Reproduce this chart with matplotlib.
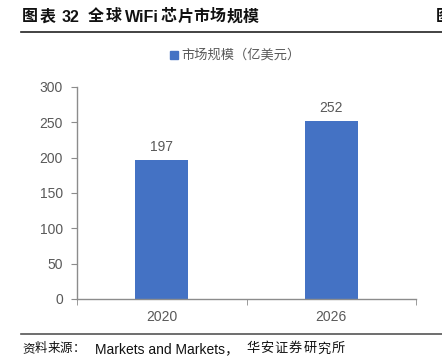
import matplotlib
matplotlib.use("Agg")
import matplotlib.pyplot as plt
from matplotlib.lines import Line2D
from matplotlib.patches import Rectangle

plt.rcParams['font.family'] = ['Liberation Sans', 'Noto Sans CJK SC', 'DejaVu Sans']

categories = ["2020", "2026"]
values = [197, 252]
series_name = "市场规模（亿美元）"
yticks = [0, 50, 100, 150, 200, 250, 300]
title_parts = ["图表", "32", "全球", "WiFi", "芯片市场规模"]
source_parts = ["资料来源：", "Markets and Markets，", "华安证券研究所"]

W, H = 442, 360
fig = plt.figure(figsize=(W / 100, H / 100), dpi=100)
ax = fig.add_axes([77 / W, (H - 299) / H, (416 - 77) / W, (299 - 87) / H])

bar_color = "#4472C4"
gray = "#595959"
x = list(range(len(categories)))
ax.bar(x, values, width=0.31, color=bar_color, zorder=2)
for xi, v in zip(x, values):
    ax.text(xi, v + 8, str(v), ha="center", va="bottom", fontsize=10, color=gray)

ax.set_xlim(-0.5, len(categories) - 0.5)
ax.set_ylim(0, 300)
ax.set_yticks(yticks)
ax.set_yticklabels([str(t) for t in yticks], fontsize=10, color=gray)
ax.set_xticks(x)
ax.set_xticklabels(categories, fontsize=10, color=gray)
ax.tick_params(axis="x", length=0, pad=8)
ax.tick_params(axis="y", length=4, color="#8c8c8c", pad=6)
ax.set_xticks([-0.5, 0.5, 1.5], minor=True)
ax.tick_params(axis="x", which="minor", length=4, color="#8c8c8c")
for s in ["top", "right"]:
    ax.spines[s].set_visible(False)
for s in ["left", "bottom"]:
    ax.spines[s].set_color("#8c8c8c")
    ax.spines[s].set_linewidth(1.0)

# legend
fig.patches.append(Rectangle((170 / W, (H - 59) / H), 8 / W, 8 / H,
                             transform=fig.transFigure, color=bar_color))
fig.text(181 / W, (H - 55) / H, series_name, fontsize=9.5, color=gray, va="center",
         family=['Noto Sans CJK SC', 'DejaVu Sans'])


def spaced(text, x0, y, pitch, **kw):
    for i, ch in enumerate(text):
        fig.text((x0 + i * pitch) / W, y / H, ch, va="center", **kw)


# title
ty = H - 17
tkw = dict(fontsize=11.5, fontweight="bold", color="#111111")
spaced(title_parts[0], 22, ty, 18, **tkw)
fig.text(62 / W, ty / H, title_parts[1], va="center", **tkw)
spaced(title_parts[2], 88, ty, 18, **tkw)
fig.text(125 / W, ty / H, title_parts[3], va="center", **tkw)
spaced(title_parts[4], 161, ty, 16.3, **tkw)
fig.text(436 / W, ty / H, "图", va="center", **tkw)
fig.add_artist(Line2D([21 / W, 1.0], [(H - 32) / H] * 2, color="#222222", lw=1.2,
                      transform=fig.transFigure))

# source
sy = H - 349
spaced(source_parts[0], 22, sy, 12.6, fontsize=9, color="#111111")
fig.text(95 / W, sy / H, source_parts[1], va="center", fontsize=10, color="#111111")
spaced(source_parts[2], 246, sy, 14.3, fontsize=9.5, color="#111111")
fig.add_artist(Line2D([21 / W, 1.0], [(H - 334) / H] * 2, color="#555555", lw=1.2,
                      transform=fig.transFigure))

fig.savefig("out.png", dpi=100)
